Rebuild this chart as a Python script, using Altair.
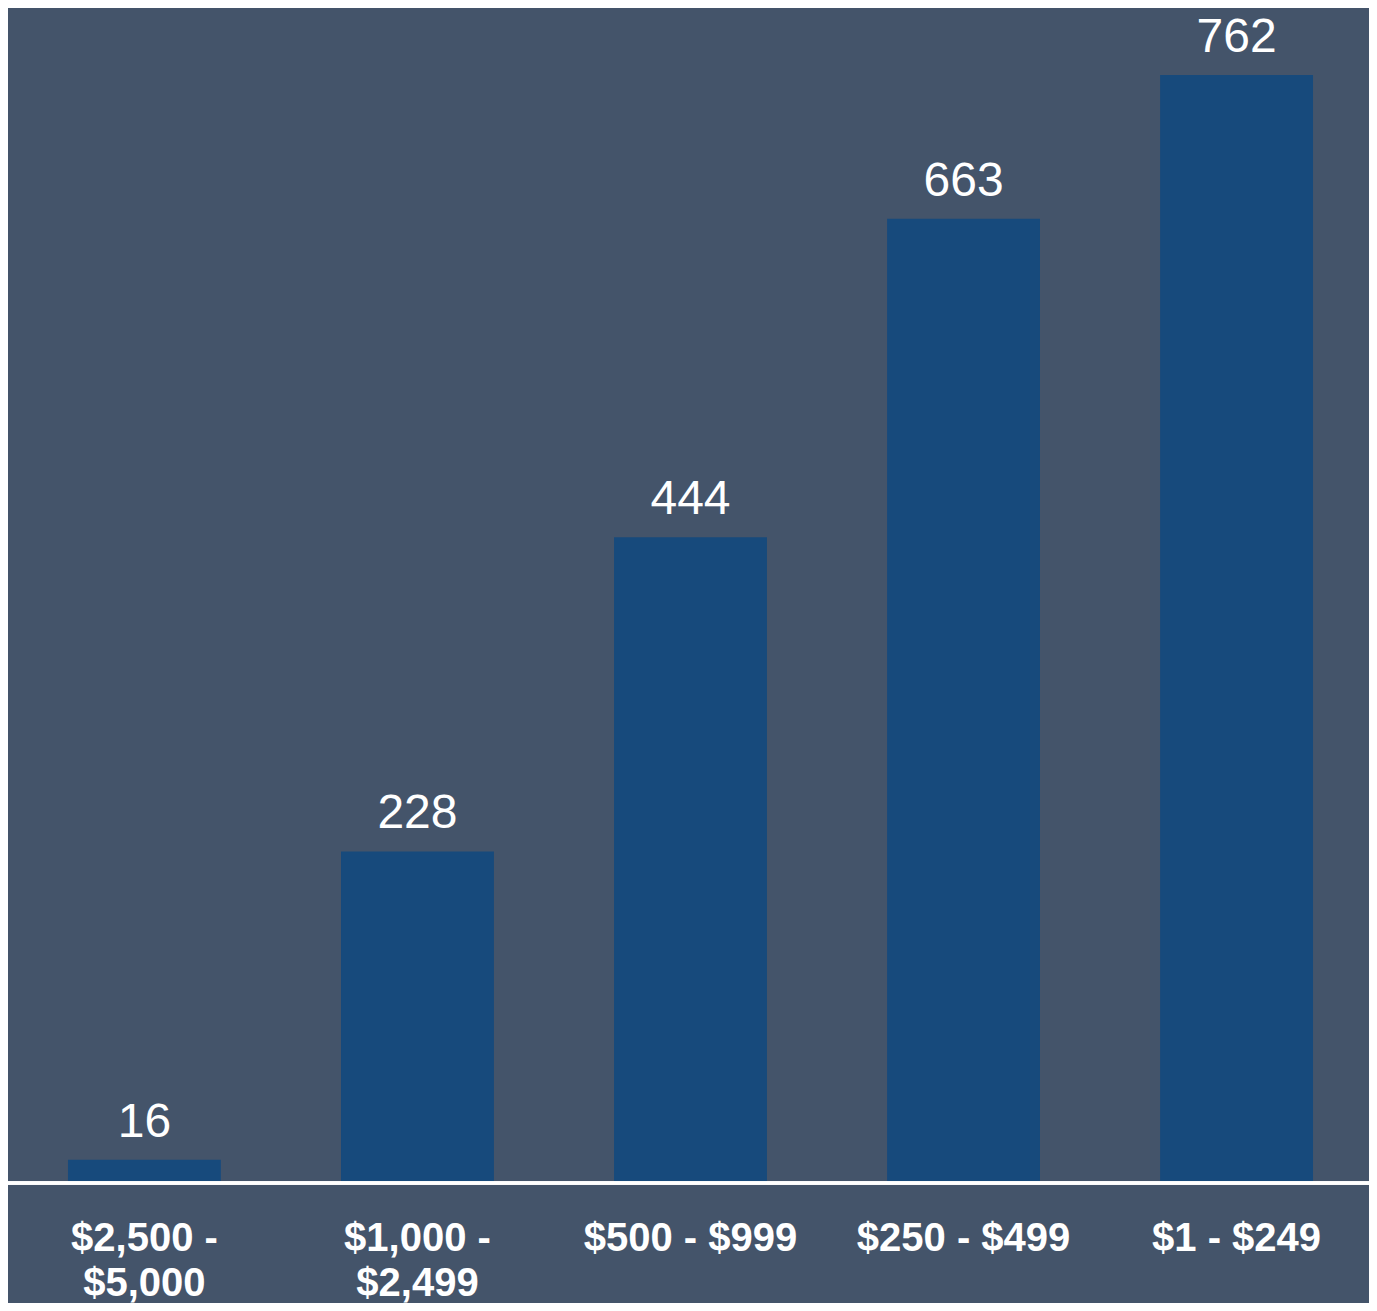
import altair as alt
import pandas as pd

categories = ["$2,500 -\n$5,000", "$1,000 -\n$2,499", "$500 - $999", "$250 - $499", "$1 - $249"]
values = [16, 228, 444, 663, 762]

df = pd.DataFrame({"cat": categories, "val": values})

FONT = "Liberation Sans, Arial, sans-serif"

x = alt.X(
    "cat:N",
    sort=categories,
    scale=alt.Scale(paddingInner=0.44, paddingOuter=0.205, range=[4, 1361]),
    axis=alt.Axis(
        title=None,
        labelAngle=0,
        ticks=False,
        domain=False,
        labelColor="white",
        labelFont=FONT,
        labelFontWeight="bold",
        labelFontSize=40,
        labelLineHeight=45,
        labelPadding=35,
        labelLimit=0,
        labelOverlap=False,
        labelExpr="split(datum.label, '\\n')",
        grid=False,
    ),
)

y = alt.Y("val:Q", scale=alt.Scale(domain=[0, 808], nice=False), axis=None)

bars = alt.Chart(df).mark_bar(color="#174A7C").encode(x=x, y=y)
labels = alt.Chart(df).mark_text(
    color="white", font=FONT, fontSize=48, baseline="alphabetic", dy=-23
).encode(x=x, y=y, text="val:Q")
baseline = alt.Chart(df).mark_rule(color="white", strokeWidth=3).encode(
    x=alt.value(0), x2=alt.value(1361), y=alt.Y(datum=0)
)

chart = (
    (bars + labels + baseline)
    .properties(
        width=1361,
        height=1175,
        background="#44546A",
        padding={"left": 0, "top": 0, "right": 0, "bottom": 120},
        autosize=alt.AutoSizeParams(type="none"),
    )
    .configure_view(stroke=None)
)

chart.save("out.html", embed_options={"renderer": "svg", "actions": False})
